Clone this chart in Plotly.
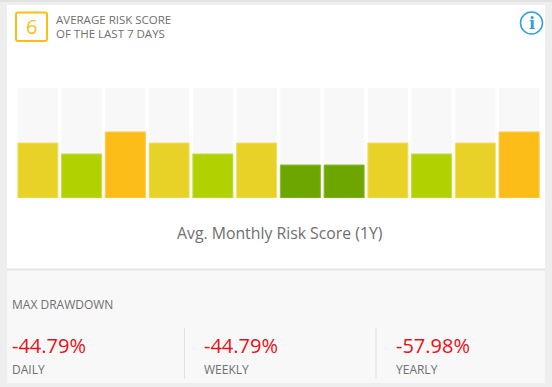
import plotly.graph_objects as go

months = ["M1","M2","M3","M4","M5","M6","M7","M8","M9","M10","M11","M12"]
scores = [5,4,6,5,4,5,3,3,5,4,5,6]
track = [10]*12
score_colors = {3:"#6ea600",4:"#b2d100",5:"#e8d227",6:"#fdbd18"}
score_lines = {3:"#8dbb33",4:"#c4dc4d",5:"#f0e06a",6:"#fcca4e"}
risk_score = "6"
title_lines = ["AVERAGE RISK SCORE","OF THE LAST 7 DAYS"]
axis_title = "Avg. Monthly Risk Score (1Y)"
dd_title = "MAX DRAWDOWN"
dd_labels = ["DAILY","WEEKLY","YEARLY"]
dd_values = ["-44.79%","-44.79%","-57.98%"]

W,H = 552,387
L,R,T,B = 16,11,88,189
PW,PH = W-L-R,H-T-B
F = "Open Sans"
GREY = "#6f6f6f"
RED = "#e8101a"
def px(x): return (x-L)/PW
def py(y): return 1-(y-T)/PH

fig = go.Figure()
fig.add_bar(x=months,y=track,marker=dict(color="#f8f8f8",line=dict(width=0)),hoverinfo="skip",showlegend=False)
fig.add_bar(x=months,y=scores,
    marker=dict(color=[score_colors[s] for s in scores],line=dict(color=[score_lines[s] for s in scores],width=1)),
    showlegend=False)

def rect(x0,y0,x1,y1,fill):
    fig.add_shape(type="rect",xref="paper",yref="paper",x0=px(x0),x1=px(x1),y0=py(y0),y1=py(y1),
        fillcolor=fill,line=dict(width=0),layer="below")
def line(x0,y0,x1,y1,c,w=1):
    fig.add_shape(type="line",xref="paper",yref="paper",x0=px(x0),x1=px(x1),y0=py(y0),y1=py(y1),line=dict(color=c,width=w),layer="below")
def text(x,y,t,size,color,anchor="left"):
    fig.add_annotation(xref="paper",yref="paper",x=px(x),y=py(y),text=t,showarrow=False,xanchor=anchor,yanchor="middle",
        font=dict(family=F,size=size,color=color),borderpad=0,borderwidth=0)

rect(0,0,552,387,"#eeeeee")
rect(7,5,545,383,"#ffffff")
rect(7,270,545,383,"#f8f8f8")
line(7,269.5,545,269.5,"#e6e6e6",2)
line(0,1,552,1,"#e2e2e2",2)
# score badge
fig.add_shape(type="path",xref="paper",yref="paper",layer="below",
    path=f"M {px(18)} {py(12.5)} L {px(45)} {py(12.5)} Q {px(47)} {py(12.5)} {px(47)} {py(14.5)} L {px(47)} {py(39)} Q {px(47)} {py(41)} {px(45)} {py(41)} L {px(18)} {py(41)} Q {px(16)} {py(41)} {px(16)} {py(39)} L {px(16)} {py(14.5)} Q {px(16)} {py(12.5)} {px(18)} {py(12.5)} Z",
    line=dict(color="#fdbd18",width=2),fillcolor="#ffffff")
text(31.5,26.5,risk_score,20,"#fdbd18","center")
text(56,19.5,title_lines[0],11.5,GREY)
text(56,33.5,title_lines[1],11.5,GREY)
# info icon
fig.add_shape(type="circle",xref="paper",yref="paper",layer="below",x0=px(520.5),x1=px(542.5),y0=py(12),y1=py(34),
    line=dict(color="#2f9fd6",width=1.5),fillcolor="#ffffff")
text(531.5,23,"<b>i</b>",16,"#2f9fd6","center")
fig.layout.annotations[-1].font.family = "DejaVu Serif"

text(280,233,axis_title,15.8,GREY,"center")
text(12,304,dd_title,12,GREY)
line(184.5,328,184.5,379,"#e2e2e2",1)
line(376,328,376,379,"#e2e2e2",1)
for x,l,v in zip([12,204,396],dd_labels,dd_values):
    text(x,345.5,v,20,RED)
    text(x,369.5,l,12,GREY)

fig.update_layout(width=W,height=H,margin=dict(l=L,r=R,t=T,b=B,autoexpand=False),
    paper_bgcolor="#ffffff",plot_bgcolor="rgba(0,0,0,0)",barmode="overlay",bargap=3.7/43.7,
    xaxis=dict(visible=False,type="category",categoryorder="array",categoryarray=months),
    yaxis=dict(visible=False,range=[0,10]),font=dict(family=F),showlegend=False)
fig.write_html("out.html",config={"displayModeBar":False},post_script="document.body.style.margin='0';")
